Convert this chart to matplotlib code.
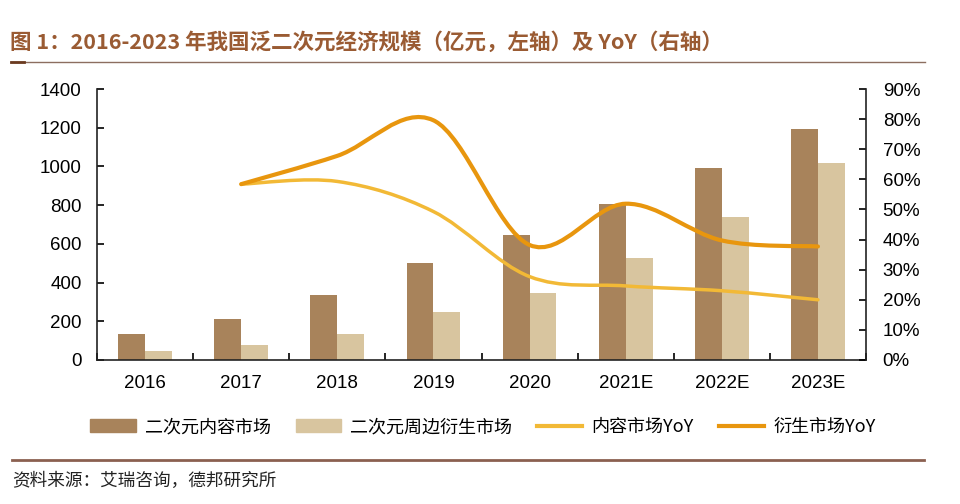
import numpy as np
import matplotlib.pyplot as plt
from matplotlib.path import Path
from matplotlib.patches import PathPatch, Patch
from matplotlib.lines import Line2D

plt.rcParams['font.family'] = ['Liberation Sans', 'Noto Sans CJK SC', 'DejaVu Sans']

# data
years = ['2016', '2017', '2018', '2019', '2020', '2021E', '2022E', '2023E']
content = [133, 210, 338, 503, 646, 807, 993, 1191]      # 二次元内容市场
derived = [47, 78, 134, 246, 345, 526, 741, 1020]        # 二次元周边衍生市场
content_yoy = [58.4, 59.3, 49.3, 27.7, 24.6, 23.0, 20.0]  # from 2017
derived_yoy = [58.4, 67.8, 79.6, 38.2, 51.9, 39.7, 37.7]  # from 2017

c_dark = '#A8835B'
c_light = '#D8C59F'
c_yoy1 = '#F2B936'
c_yoy2 = '#E8960E'
c_brown = '#9A5B33'
cjk = ['Noto Sans CJK SC', 'DejaVu Sans']


def smooth_path(xs, ys):
    # bezier through the points (Catmull-Rom style, like office smoothed lines)
    xs = np.asarray(xs, float)
    ys = np.asarray(ys, float)
    n = len(xs)
    verts = [(xs[0], ys[0])]
    codes = [Path.MOVETO]
    for i in range(n - 1):
        p0 = i - 1 if i > 0 else i
        p3 = i + 2 if i + 2 < n else i + 1
        c1 = (xs[i] + (xs[i + 1] - xs[p0]) / 6, ys[i] + (ys[i + 1] - ys[p0]) / 6)
        c2 = (xs[i + 1] - (xs[p3] - xs[i]) / 6, ys[i + 1] - (ys[p3] - ys[i]) / 6)
        verts += [c1, c2, (xs[i + 1], ys[i + 1])]
        codes += [Path.CURVE4] * 3
    return Path(verts, codes)


fig = plt.figure(figsize=(9.6, 5.04), dpi=100)
ax = fig.add_axes([97 / 960, 1 - 360 / 504, 769 / 960, 271 / 504])

x = np.arange(len(years))
w = 0.28
ax.bar(x - w / 2, content, w, color=c_dark, zorder=2)
ax.bar(x + w / 2, derived, w, color=c_light, zorder=2)

ax.set_xlim(-0.5, len(years) - 0.5)
ax.set_ylim(0, 1400)
ax.set_yticks(range(0, 1401, 200))
ax.set_xticks(np.arange(-0.5, len(years), 1))
ax.set_xticklabels([])
ax.set_xticks(x, minor=True)
ax.set_xticklabels(years, minor=True)
ax.tick_params(axis='x', which='major', direction='in', length=5, width=1.2)
ax.tick_params(axis='x', which='minor', length=0, pad=11, labelsize=13.5)
ax.tick_params(axis='y', direction='in', length=5, width=1.2, labelsize=13.5, pad=11)
ax.spines['top'].set_visible(False)
ax.spines['right'].set_visible(False)
for s in ['left', 'bottom']:
    ax.spines[s].set_linewidth(1.2)
    ax.spines[s].set_color('#222222')

ax2 = ax.twinx()
ax2.set_ylim(0, 90)
ax2.set_yticks(range(0, 91, 10))
ax2.set_yticklabels([f'{v}%' for v in range(0, 91, 10)])
ax2.tick_params(axis='y', direction='in', length=5, width=1.2, labelsize=13.5, pad=12)
ax2.spines['top'].set_visible(False)
ax2.spines['left'].set_visible(False)
ax2.spines['bottom'].set_visible(False)
ax2.spines['right'].set_linewidth(1.2)
ax2.spines['right'].set_color('#222222')

xl = x[1:]
ax2.add_patch(PathPatch(smooth_path(xl, content_yoy), fill=False, edgecolor=c_yoy1,
                        lw=2.5, capstyle='round', zorder=3))
ax2.add_patch(PathPatch(smooth_path(xl, derived_yoy), fill=False, edgecolor=c_yoy2,
                        lw=3, capstyle='round', zorder=4))

handles = [Patch(color=c_dark), Patch(color=c_light),
           Line2D([], [], color=c_yoy1, lw=3), Line2D([], [], color=c_yoy2, lw=3)]
labels = ['二次元内容市场', '二次元周边衍生市场', '内容市场YoY', '衍生市场YoY']
fig.legend(handles, labels, loc='center', bbox_to_anchor=(0.503, 1 - 427 / 504), ncol=4,
           frameon=False, columnspacing=1.4, handlelength=2.5,
           handletextpad=0.5, prop={'family': cjk, 'size': 13})

fig.text(10 / 960, 1 - 42 / 504, '图 1：2016-2023 年我国泛二次元经济规模（亿元，左轴）及 YoY（右轴）',
         fontsize=15.5, fontweight='bold', color=c_brown, va='center', family=cjk)
fig.add_artist(Line2D([11 / 960, 925 / 960], [1 - 62 / 504] * 2, color='#8C6E60', lw=1))
fig.add_artist(Line2D([11 / 960, 24 / 960], [1 - 62 / 504] * 2, color='#6B3A20', lw=2))
fig.add_artist(Line2D([12 / 960, 924 / 960], [1 - 460 / 504] * 2, color='#8B6050', lw=2))
fig.text(12 / 960, 1 - 481 / 504, '资料来源：艾瑞咨询，德邦研究所', fontsize=12.7, color='#222222',
         va='center', family=cjk)

fig.savefig('out.png', dpi=100)
